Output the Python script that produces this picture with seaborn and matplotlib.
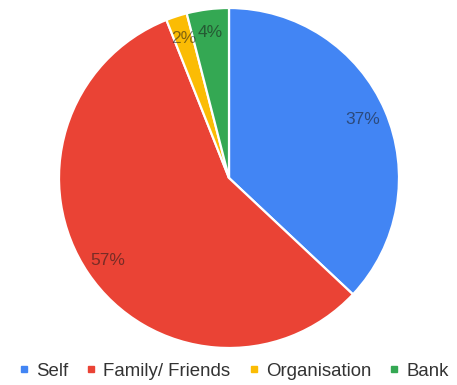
import matplotlib
matplotlib.use("Agg")
import matplotlib.pyplot as plt
from matplotlib.lines import Line2D
import seaborn as sns

categories = ["Self", "Family/ Friends", "Organisation", "Bank"]
shares = [37, 57, 2, 4]
colors = ["#4285F4", "#EA4335", "#FBBC04", "#34A853"]

sns.set_theme(style="white")
plt.rcParams["font.family"] = ["Liberation Sans", "DejaVu Sans"]
palette = sns.color_palette(colors)

fig = plt.figure(figsize=(4.57, 3.85), dpi=100)
# pie area: 340 px square centred near (229, 178)
ax = fig.add_axes([59 / 457, (385 - 348) / 385, 340 / 457, 340 / 385])

wedges, texts, autotexts = ax.pie(
    shares,
    colors=palette,
    startangle=90,
    counterclock=False,
    autopct=lambda p: f"{p:.0f}%",
    pctdistance=0.86,
    wedgeprops=dict(edgecolor="white", linewidth=1.6),
    textprops=dict(fontsize=12.5, color="#1a1a1a", alpha=0.55),
)
ax.set_xlim(-1, 1)
ax.set_ylim(-1, 1)
ax.set_aspect("equal")
ax.axis("off")

handles = [
    Line2D([0], [0], marker="s", linestyle="", markersize=4,
           markerfacecolor=c, markeredgecolor=c)
    for c in palette
]
fig.legend(
    handles, categories,
    loc="center", bbox_to_anchor=(233.5 / 457, 1 - 371 / 385),
    ncol=4, frameon=False, fontsize=13.4,
    handlelength=0.6, handletextpad=0.35, columnspacing=0.95,
    labelcolor="#333333",
)

fig.savefig("out.png", dpi=100)
